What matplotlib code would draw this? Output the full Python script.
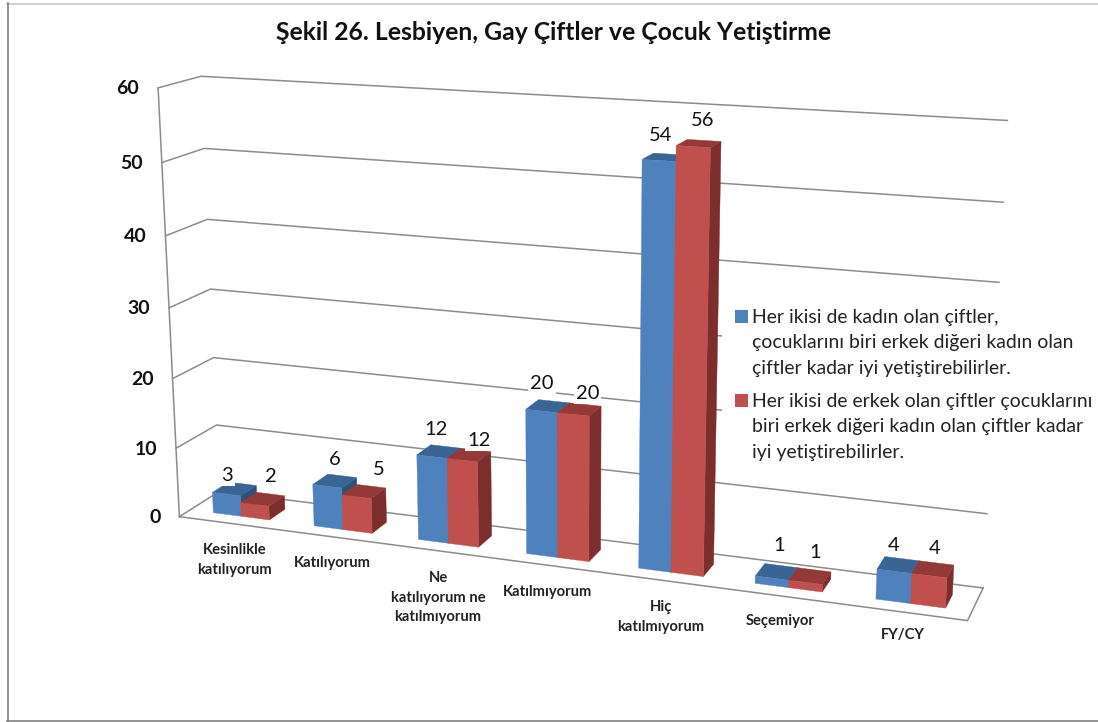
import numpy as np
import matplotlib
matplotlib.use('Agg')
from matplotlib import pyplot as plt
from matplotlib.patches import Polygon, Rectangle

plt.rcParams['font.family'] = ['Lato', 'DejaVu Sans']

title = 'Şekil 26. Lesbiyen, Gay Çiftler ve Çocuk Yetiştirme'
categories = ['Kesinlikle\nkatılıyorum', 'Katılıyorum', 'Ne\nkatılıyorum ne\nkatılmıyorum',
              'Katılmıyorum', 'Hiç\nkatılmıyorum', 'Seçemiyor', 'FY/CY']
women_couples = [3, 6, 12, 20, 54, 1, 4]
men_couples = [2, 5, 12, 20, 56, 1, 4]
value_ticks = [0, 10, 20, 30, 40, 50, 60]
legend_women = 'Her ikisi de kadın olan çiftler,\nçocuklarını biri erkek diğeri kadın olan\nçiftler kadar iyi yetiştirebilirler.'
legend_men = 'Her ikisi de erkek olan çiftler çocuklarını\nbiri erkek diğeri kadın olan çiftler kadar\niyi yetiştirebilirler.'

# where each category label sits, the original staggers them
label_pos = [(235, 560), (332, 563), (438, 598), (548, 592), (661, 617), (780, 621), (903, 635)]
# hand nudges for the value labels
women_nudge = [(-7, 7), (0, -1), (-3, -2), (-6, -3), (-4, -2), (3, -6), (-5, 1)]
men_nudge = [(8, -3), (15, -2), (10, 5), (8, 4), (4, -3), (5, -4), (2, -1)]

BLUE, BLUE_TOP, BLUE_SIDE = '#4F81BD', '#3A6494', '#2F5178'
RED, RED_TOP, RED_SIDE = '#C0504D', '#933A38', '#7B2E2C'
GRID = '#8C8C8C'

# camera for the 3D box: (category, value, depth) -> pixel, fitted on the box corners
calib = [((0, 0, 0), (180, 517)), ((0, 60, 0), (158, 87)), ((0, 0, 1), (219, 491)),
         ((0, 60, 1), (201, 77)), ((7, 0, 1), (983, 588)), ((7, 60, 1), (1007, 121)),
         ((7, 0, 0), (967, 621)), ((0, 30, 0), (169, 308)), ((7, 30, 1), (996, 360))]
rows = []
for (X, Y, Z), (u, v) in calib:
    rows.append([X, Y, Z, 1, 0, 0, 0, 0, -u*X, -u*Y, -u*Z, -u])
    rows.append([0, 0, 0, 0, X, Y, Z, 1, -v*X, -v*Y, -v*Z, -v])
cam = np.linalg.svd(np.array(rows, dtype=float))[2][-1].reshape(3, 4)


def project(x, y, z):
    p = cam @ np.array([x, y, z, 1.0])
    return p[0] / p[2], p[1] / p[2]


def draw_bar(ax, x0, x1, z0, z1, value, front, top, side, zorder):
    corners = {
        'side': [(x1, 0, z0), (x1, 0, z1), (x1, value, z1), (x1, value, z0)],
        'top': [(x0, value, z0), (x1, value, z0), (x1, value, z1), (x0, value, z1)],
        'front': [(x0, 0, z0), (x1, 0, z0), (x1, value, z0), (x0, value, z0)],
    }
    for name, color in (('side', side), ('top', top), ('front', front)):
        pts = [project(*c) for c in corners[name]]
        ax.add_patch(Polygon(pts, closed=True, facecolor=color, edgecolor=color, lw=0.3, zorder=zorder))


fig, ax = plt.subplots(figsize=(10.98, 7.22), dpi=100)
ax.set_position([0, 0, 1, 1])
ax.set_xlim(0, 1098)
ax.set_ylim(722, 0)
ax.axis('off')

# outer frame of the chart, no right edge in the scan
ax.plot([7, 1098], [3.5, 3.5], color='#C8C8C8', lw=1.2)
ax.plot([7.5, 7.5], [3, 721], color='#808080', lw=1.2)
ax.plot([7, 1098], [721, 721], color='#808080', lw=1.2)

n = len(categories)

# gridlines, left wall, back wall
for v in value_ticks:
    line = [project(0, v, 0), project(0, v, 1), project(n, v, 1)]
    ax.plot(*zip(*line), color=GRID, lw=1.1, zorder=1)
    fx, fy = project(0, v, 0)
    ax.text(fx - 19, fy + 1, str(v), ha='right', va='center', fontsize=14, fontweight='bold', color='#111111', zorder=5)

ax.plot(*zip(*[project(0, 0, 0), project(0, 60, 0)]), color=GRID, lw=1.1, zorder=1)
floor = [project(0, 0, 0), project(n, 0, 0), project(n, 0, 1)]
ax.plot(*zip(*floor), color=GRID, lw=1.1, zorder=1)

bar_w = 0.28
z0, z1 = 0.27, 0.68
for i in range(n):
    c = i + 0.512
    draw_bar(ax, c - bar_w, c, z0, z1, women_couples[i], BLUE, BLUE_TOP, BLUE_SIDE, 3 + i)
    draw_bar(ax, c, c + bar_w, z0, z1, men_couples[i], RED, RED_TOP, RED_SIDE, 3 + i + 0.5)
    pairs = ((women_couples[i], c - bar_w / 2, women_nudge[i]), (men_couples[i], c + bar_w / 2, men_nudge[i]))
    for val, xc, (dx, dy) in pairs:
        px, py = project(xc, val, (z0 + z1) / 2)
        ax.text(px + dx, py - 20 + dy, str(val), ha='center', va='center', fontsize=14.5, color='#111111', zorder=20,
                bbox=dict(facecolor='white', edgecolor='none', pad=1.5))

for name, (lx, ly) in zip(categories, label_pos):
    ax.text(lx, ly, name, ha='center', va='center', fontsize=10.6, fontweight='bold', color='#222222',
            linespacing=1.5, zorder=20)

ax.text(554, 32, title, ha='center', va='center', fontsize=17.85, fontweight='bold', color='#111111')

# legend written out by hand so the square lines up with the first text line
ax.add_patch(Rectangle((722, 300), 376, 165, facecolor='white', edgecolor='none', zorder=2))
for sy, label in ((316, legend_women), (400, legend_men)):
    ax.add_patch(Rectangle((735, sy - 6), 13, 13, facecolor=BLUE if label is legend_women else RED, edgecolor='none', zorder=20))
    ax.text(752, sy - 7, label, ha='left', va='top', fontsize=13.95, color='#222222', linespacing=1.6, zorder=20)

fig.savefig('out.png', dpi=100)
